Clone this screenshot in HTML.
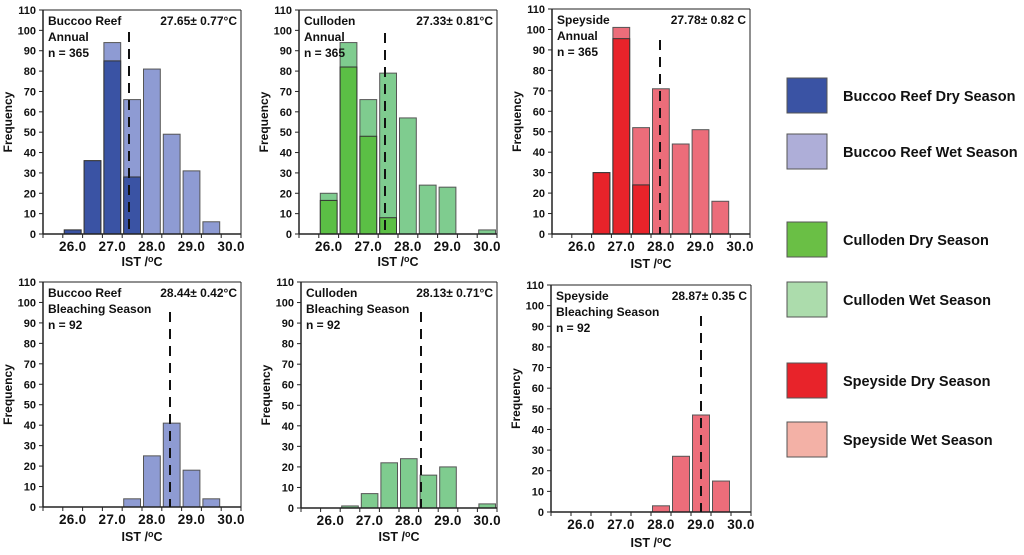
<!DOCTYPE html>
<html><head><meta charset="utf-8"><style>
body{margin:0;background:#fff;width:1024px;height:555px;overflow:hidden;font-family:"Liberation Sans",sans-serif}
svg{display:block}
text{font-family:"Liberation Sans",sans-serif;font-weight:bold;fill:#111}
</style></head><body>
<svg id="chart" width="1024" height="555"></svg>
<script>
const binLabels=["26.0","27.0","28.0","29.0","30.0"];
const yTicks=[0,10,20,30,40,50,60,70,80,90,100,110];
const buccooAnnualDry=[0,2,36,85,28,0,0,0,0,0];
const buccooAnnualWet=[0,0,0,9,38,81,49,31,6,0];
const cullodenAnnualDry=[0,16.5,82,48,8,0,0,0,0,0];
const cullodenAnnualWet=[0,3.5,12,18,71,57,24,23,0,2];
const speysideAnnualDry=[0,0,30,95.5,24,0,0,0,0,0];
const speysideAnnualWet=[0,0,0,5.5,28,71,44,51,16,0];
const buccooBleach=[0,0,0,0,4,25,41,18,4,0];
const cullodenBleach=[0,0,1,7,22,24,16,20,0,2];
const speysideBleach=[0,0,0,0,0,3,27,47,15,0];
const means=[27.65,27.33,27.78,28.44,28.13,28.87];

const NS="http://www.w3.org/2000/svg";
const svg=document.getElementById('chart');
function mk(tag,attrs,parent){const e=document.createElementNS(NS,tag);for(const k in attrs)e.setAttribute(k,attrs[k]);(parent||svg).appendChild(e);return e;}

const panels=[
 {x0:43,x1:241,yTop:10,yBot:234,dry:buccooAnnualDry,wet:buccooAnnualWet,dc:"#3a53a4",wc:"#8e9bd3",t:["Buccoo Reef","Annual","n = 365"],stat:"27.65± 0.77°C",dashX:129,dashTop:32,xl:266,name:"buccoo-annual"},
 {x0:299,x1:497,yTop:10,yBot:234,dry:cullodenAnnualDry,wet:cullodenAnnualWet,dc:"#5bbf45",wc:"#7fcc8f",t:["Culloden","Annual","n = 365"],stat:"27.33± 0.81°C",dashX:385,dashTop:33,xl:266,name:"culloden-annual"},
 {x0:552,x1:750,yTop:9,yBot:234,dry:speysideAnnualDry,wet:speysideAnnualWet,dc:"#e8232a",wc:"#ec6d7a",t:["Speyside","Annual","n = 365"],stat:"27.78± 0.82  C",dashX:660,dashTop:40,xl:268,name:"speyside-annual"},
 {x0:43,x1:241,yTop:282,yBot:507,dry:null,wet:buccooBleach,dc:"",wc:"#8e9bd3",t:["Buccoo Reef","Bleaching Season","n = 92"],stat:"28.44± 0.42°C",dashX:170,dashTop:312,xl:541,name:"buccoo-bleaching"},
 {x0:301,x1:497,yTop:282,yBot:508,dry:null,wet:cullodenBleach,dc:"",wc:"#7fcc8f",t:["Culloden","Bleaching Season","n = 92"],stat:"28.13± 0.71°C",dashX:421,dashTop:312,xl:541,name:"culloden-bleaching"},
 {x0:551,x1:751,yTop:285,yBot:512,dry:null,wet:speysideBleach,dc:"",wc:"#ec6d7a",t:["Speyside","Bleaching Season","n = 92"],stat:"28.87± 0.35  C",dashX:701,dashTop:316,xl:547,name:"speyside-bleaching"}
];

panels.forEach((p,pi)=>{
 const g=mk('g',{});
 
 
 const bw=(p.x1-p.x0)/10;
 const ys=v=>p.yBot-(v/110)*(p.yBot-p.yTop);
 const xs=i=>p.x0+i*bw;
 for(let i=0;i<10;i++){
  const d=p.dry?p.dry[i]:0, w=p.wet[i], tot=d+w;
  if(tot>0){
   const r=mk('rect',{x:xs(i)+1.5,y:ys(tot),width:bw-3,height:p.yBot-ys(tot),fill:p.wc,stroke:"#555","stroke-width":1},g);
   
   
  }
  if(d>0){
   const r=mk('rect',{x:xs(i)+1.5,y:ys(d),width:bw-3,height:p.yBot-ys(d),fill:p.dc,stroke:"#333","stroke-width":1},g);
   
   
  }
 }
 mk('line',{x1:p.x0,y1:p.yTop,x2:p.x0,y2:p.yBot,stroke:"#222","stroke-width":1.5},g);
 mk('line',{x1:p.x0,y1:p.yBot,x2:p.x1,y2:p.yBot,stroke:"#222","stroke-width":1.5},g);
 yTicks.forEach(v=>{
  mk('line',{x1:p.x0-4,y1:ys(v),x2:p.x0,y2:ys(v),stroke:"#222"},g);
  const t=mk('text',{x:p.x0-7,y:ys(v)+4,"text-anchor":"end","font-size":11},g);t.textContent=v;
  
  
 });
 for(let i=0;i<=10;i++) mk('line',{x1:xs(i),y1:p.yBot,x2:xs(i),y2:p.yBot+4,stroke:"#222"},g);
 binLabels.forEach((l,k)=>{
  const t=mk('text',{x:xs(2*k+1)+bw/2,y:p.yBot+17,"text-anchor":"middle","font-size":13.5,"letter-spacing":"0.3"},g);t.textContent=l;
  
  
 });
 const xl=mk('text',{x:(p.x0+p.x1)/2,y:p.xl,"text-anchor":"middle","font-size":12.5},g);
 xl.innerHTML='IST /<tspan dy="-4" font-size="9">o</tspan><tspan dy="4">C</tspan>';
 
 
 const yl=mk('text',{x:0,y:0,"text-anchor":"middle","font-size":12,transform:`translate(${p.x0-31},${(p.yTop+p.yBot)/2}) rotate(-90)`},g);
 yl.textContent='Frequency';
 
 
 mk('line',{x1:p.x0,y1:p.yTop,x2:p.x1,y2:p.yTop,stroke:"#222","stroke-width":1},g);
 mk('line',{x1:p.x1,y1:p.yTop,x2:p.x1,y2:p.yBot,stroke:"#222","stroke-width":1},g);
 p.t.forEach((s,k)=>{
  const t=mk('text',{x:p.x0+5,y:p.yTop+15+k*16,"font-size":12},g);t.textContent=s;
  
  
 });
 const st=mk('text',{x:p.x1-4,y:p.yTop+15,"text-anchor":"end","font-size":12},g);st.textContent=p.stat;
 
 
 const dl=mk('line',{x1:p.dashX,y1:p.dashTop,x2:p.dashX,y2:p.yBot,stroke:"#111","stroke-width":2,"stroke-dasharray":"10,7"},g);
 
 
});

const legend=[["Buccoo Reef Dry Season","#3a53a4",78],["Buccoo Reef Wet Season","#aeaed8",134],["Culloden Dry Season","#6abf45",222],["Culloden Wet Season","#acdcac",282],["Speyside Dry Season","#e8232a",363],["Speyside Wet Season","#f3b1a6",422]];
legend.forEach(l=>{
 const g=mk('g',{});
 
 
 mk('rect',{x:787,y:l[2],width:40,height:35,fill:l[1],stroke:"#555","stroke-width":1},g);
 const t=mk('text',{x:843,y:l[2]+23,"font-size":14.5},g);t.textContent=l[0];
});
</script>
</body></html>
